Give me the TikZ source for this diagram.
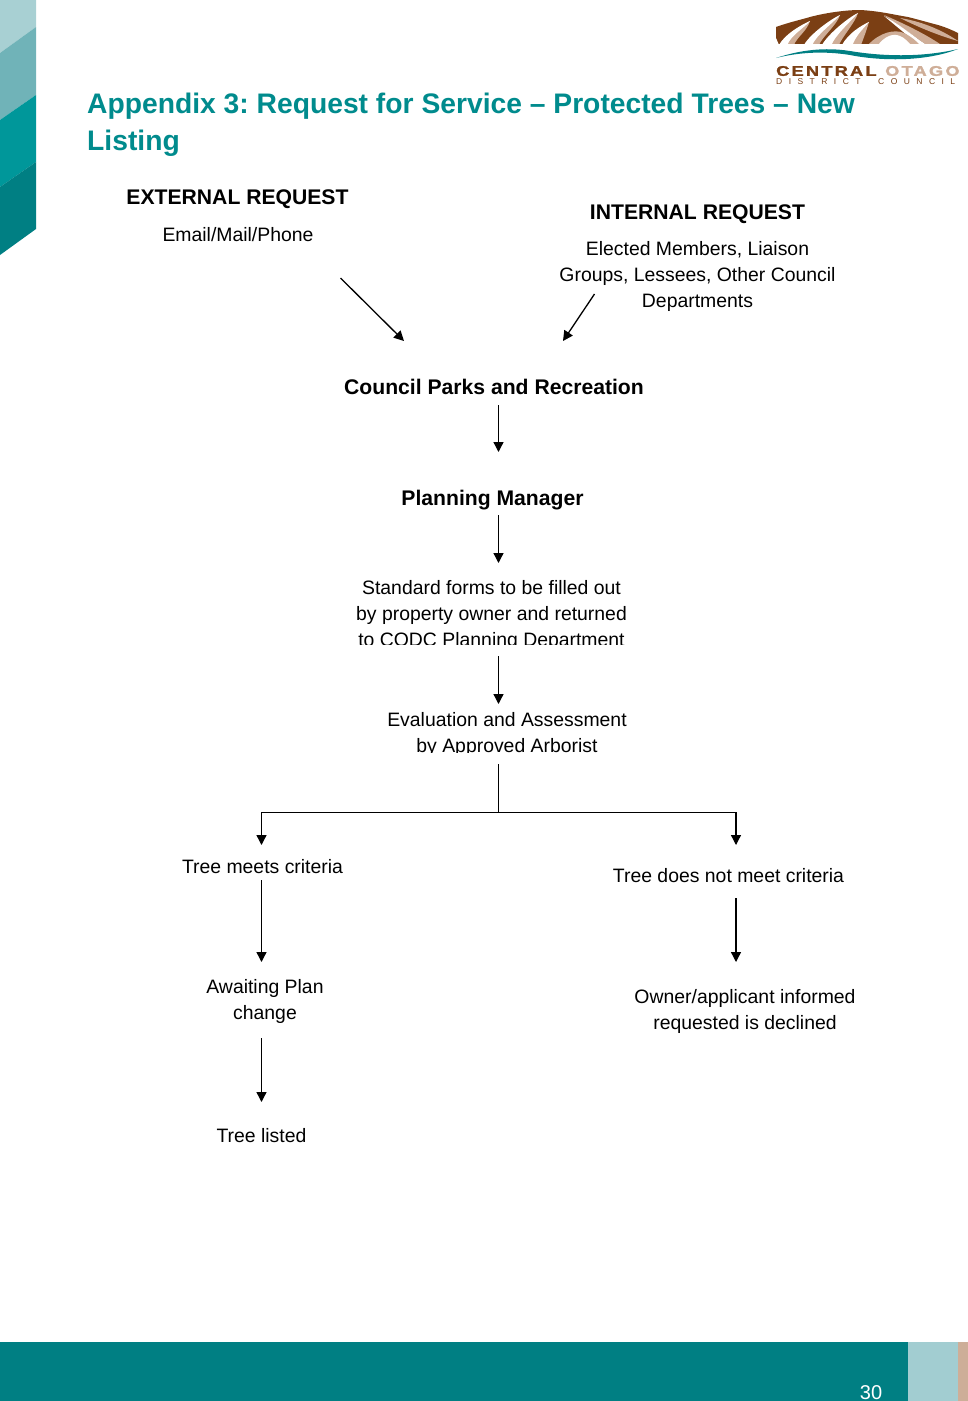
\documentclass[tikz,border=0pt]{standalone}
\usepackage{fontspec}
\setmainfont{Liberation Sans}
\newfontfamily\logofont[FakeStretch=1.3,BoldFeatures={FakeBold=1.5}]{Liberation Sans}
\usetikzlibrary{arrows.meta,calc}
\definecolor{teal1}{HTML}{007F83}
\definecolor{titlec}{HTML}{008B8D}
\definecolor{band1}{HTML}{A8D0D3}
\definecolor{band2}{HTML}{70B3B8}
\definecolor{band3}{HTML}{00979A}
\definecolor{foot2}{HTML}{A2CDD1}
\definecolor{foot3}{HTML}{CDAE98}
\definecolor{brown1}{HTML}{7B3F14}
\definecolor{tan1}{HTML}{CFAE98}
\tikzset{
  txt/.style={inner sep=0pt,align=center,text=black,font=\fontsize{19.4}{26}\selectfont},
  hd/.style={inner sep=0pt,align=center,text=black,font=\fontsize{21.15}{26}\selectfont\bfseries},
  ttl/.style={inner sep=0pt,anchor=west,text=titlec,font=\frenchspacing\fontsize{28.25}{36}\selectfont\bfseries},
  conn/.style={draw=black,line width=1.3pt,-{Triangle[length=10pt,width=10pt]}},
  plain/.style={draw=black,line width=1.3pt},
  logob/.style={inner sep=0pt,anchor=west,font=\logofont\fontsize{14}{14}\selectfont\bfseries\addfontfeature{LetterSpace=16}},
  logos/.style={inner sep=0pt,anchor=west,text=brown1,font=\fontsize{8.5}{9}\selectfont\addfontfeature{LetterSpace=76}},
}
% base-left, base-right, tip: a tan-lined white stripe of the mountain
\newcommand{\lgstripe}[3]{%
  \fill[tan1] #1 .. controls +(8,-12) and +(-8,5) .. #3 .. controls +(-3,10) and +(3,-8) .. #2 -- cycle;
  \fill[white] #1 .. controls +(6,-11) and +(-9,4) .. #3 .. controls +(-7,8) and +(4,-10) .. ($#1!0.55!#2$) -- cycle;
}
\begin{document}
\begin{tikzpicture}[x=1pt,y=-1pt]
\useasboundingbox (0,0) rectangle (968,1401);
\fill[white] (0,0) rectangle (968,1401);
% left strip
\fill[band1] (0,0)--(36,0)--(36,27)--(0,53)--cycle;
\fill[band2] (0,53)--(36,27)--(36,95)--(0,120)--cycle;
\fill[band3] (0,120)--(36,95)--(36,162)--(0,187)--cycle;
\fill[teal1] (0,187)--(36,162)--(36,229)--(0,255)--cycle;
% footer
\fill[teal1] (0,1342) rectangle (908,1401);
\fill[foot2] (908,1342) rectangle (958,1401);
\fill[foot3] (958,1342) rectangle (968,1401);
\node[inner sep=0pt,text=white,font=\fontsize{20}{24}\selectfont] (pageno) at (871,1392.5) {30};
% logo mountain
\fill[brown1] (776,27) .. controls (790,22) and (800,20) .. (810,17) .. controls (825,13) and (845,10) .. (860,10) .. controls (880,11) and (895,15) .. (908,17) .. controls (920,20) and (930,23) .. (938,25) .. controls (945,27) and (952,30) .. (958,33) -- (958,44) -- (776,44) -- cycle;
\fill[white] (776,38) -- (776,45) -- (779,45) -- cycle;
\lgstripe{(779,45)}{(794,45)}{(810,21)}
\lgstripe{(804,45)}{(819,45)}{(840,15)}
\lgstripe{(822,45)}{(839,45)}{(858,13)}
\lgstripe{(842,45)}{(861,45)}{(869,22)}
\fill[tan1] (884,15) .. controls (905,24) and (925,34) .. (940,44) -- (925,44) .. controls (912,34) and (898,26) .. (884,15) -- cycle;
\fill[white] (884,16) .. controls (900,25) and (912,35) .. (925,44) -- (918,44) .. controls (908,36) and (896,26) .. (884,16) -- cycle;
\fill[tan1] (900,18) .. controls (925,22) and (945,32) .. (958,41) .. controls (940,36) and (920,28) .. (900,18) -- cycle;
\fill[tan1] (868,45) .. controls (880,32) and (895,29) .. (904,33) .. controls (912,37) and (916,41) .. (920,45) -- cycle;
\fill[white] (878,45) .. controls (885,36) and (893,33) .. (900,36) .. controls (905,38) and (908,42) .. (911,45) -- cycle;
\fill[white] (772,44) rectangle (962,47);
\fill[teal1] (776,58) .. controls (800,50) and (825,47) .. (850,51) .. controls (880,56) and (920,58) .. (958,49) .. controls (925,62) and (880,61) .. (850,55) .. controls (825,51) and (800,52) .. (776,58) -- cycle;
\node[logob,text=brown1] (logo1) at (776,71) {CENTRAL};
\node[logob,text=tan1] (logo2) at (885,71) {OTAGO};
\node[logos] (logo3) at (776,82) {DISTRICT};
\node[logos] (logo4) at (878,82) {COUNCIL};
% title
\node[ttl] (title1) at (87,106.5) {Appendix 3: Request for Service – Protected Trees – New};
\node[ttl] (title2) at (87,143) {Listing};
% text
\node[hd] (ext) at (237.5,199) {EXTERNAL REQUEST};
\node[txt] (extsub) at (238,235) {Email/Mail/Phone};
\node[hd] (int) at (697.5,214) {INTERNAL REQUEST};
\node[txt] (intsub) at (697.5,276) {Elected Members, Liaison\\Groups, Lessees, Other Council\\Departments};
\node[hd] (parks) at (494,387) {Council Parks and Recreation};
\node[hd] (pm) at (492.5,500) {Planning Manager};
\node[txt] (forms) at (491.5,615.5) {Standard forms to be filled out\\by property owner and returned\\to CODC Planning Department};
\fill[white] (340,644.5) rectangle (640,655);
\node[txt] (eval) at (507,734.5) {Evaluation and Assessment\\by Approved Arborist};
\fill[white] (400,753) rectangle (620,763);
\node[txt] (meets) at (262.5,866.5) {Tree meets criteria};
\node[txt] (notmeets) at (728.5,875.5) {Tree does not meet criteria};
\node[txt] (await) at (265,1001) {Awaiting Plan\\change};
\node[txt] (owner) at (745,1011) {Owner/applicant informed\\requested is declined};
\node[txt] (listed) at (261.5,1136) {Tree listed};
% connector ends
\coordinate (a1s) at (340.5,278);
\coordinate (a1e) at (404,341);
\coordinate (a2s) at (594.5,294);
\coordinate (a2e) at (563,341);
\coordinate (a3s) at (498.5,405);
\coordinate (a3e) at (498.5,452);
\coordinate (a4s) at (498.5,515);
\coordinate (a4e) at (498.5,563);
\coordinate (a5s) at (498.5,656);
\coordinate (a5e) at (498.5,704);
\coordinate (b0) at (498.5,764);
\coordinate (b1) at (498.5,812.5);
\coordinate (bl) at (261.5,812.5);
\coordinate (br) at (736,812.5);
\coordinate (ble) at (261.5,845);
\coordinate (bre) at (736,845);
\coordinate (a6s) at (261.5,880);
\coordinate (a6e) at (261.5,962);
\coordinate (a7s) at (736,898);
\coordinate (a7e) at (736,962);
\coordinate (a8s) at (261.5,1038);
\coordinate (a8e) at (261.5,1102);
\draw[conn] (a1s) -- (a1e);
\draw[conn] (a2s) -- (a2e);
\draw[conn] (a3s) -- (a3e);
\draw[conn] (a4s) -- (a4e);
\draw[conn] (a5s) -- (a5e);
\draw[plain] (b0) -- (b1);
\draw[conn] (b1) -- (bl) -- (ble);
\draw[conn] (b1) -- (br) -- (bre);
\draw[conn] (a6s) -- (a6e);
\draw[conn] (a7s) -- (a7e);
\draw[conn] (a8s) -- (a8e);
\end{tikzpicture}
\end{document}
